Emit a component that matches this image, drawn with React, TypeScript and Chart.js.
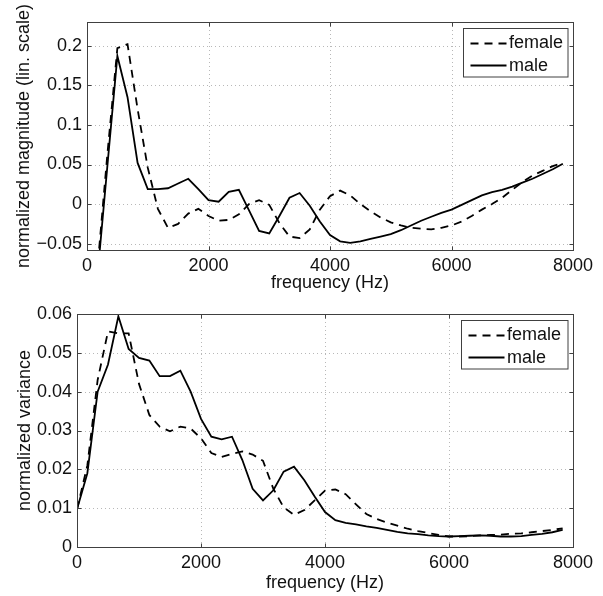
import React, { useEffect, useRef } from "react";
import { Chart, registerables } from "chart.js";

Chart.register(...registerables);

const FONT = '"Liberation Sans", Arial, Helvetica, sans-serif';

// frequency bins (Hz)
const freqHz = [
  0, 167, 333, 500, 667, 833, 1000, 1167, 1333, 1500, 1667, 1833,
  2000, 2167, 2333, 2500, 2667, 2833, 3000, 3167, 3333, 3500, 3667, 3833,
  4000, 4167, 4333, 4500, 4667, 4833, 5000, 5167, 5333, 5500, 5667, 5833,
  6000, 6167, 6333, 6500, 6667, 6833, 7000, 7167, 7333, 7500, 7667, 7833,
];

// top panel: normalized magnitude
const magFemale = [
  -0.25, -0.085, 0.061, 0.197, 0.202, 0.12, 0.046, -0.006, -0.03, -0.025, -0.012, -0.006,
  -0.015, -0.021, -0.02, -0.013, 0.0, 0.005, -0.001, -0.024, -0.041, -0.043, -0.032, -0.007,
  0.01, 0.017, 0.011, 0.0, -0.009, -0.017, -0.023, -0.027, -0.03, -0.031, -0.032, -0.03,
  -0.027, -0.022, -0.015, -0.007, 0.0, 0.008, 0.018, 0.028, 0.036, 0.042, 0.048, 0.052,
];
const magMale = [
  -0.25, -0.095, 0.046, 0.187, 0.135, 0.052, 0.019, 0.019, 0.02, 0.026, 0.032, 0.019,
  0.005, 0.003, 0.0155, 0.018, -0.008, -0.034, -0.037, -0.015, 0.008, 0.014, -0.002, -0.022,
  -0.039, -0.047, -0.049, -0.047, -0.044, -0.041, -0.038, -0.033, -0.027, -0.021, -0.016, -0.011,
  -0.007, -0.001, 0.005, 0.011, 0.015, 0.018, 0.022, 0.027, 0.032, 0.038, 0.044, 0.051,
];

// bottom panel: normalized variance
const varFemale = [
  0.0097, 0.021, 0.043, 0.0555, 0.055, 0.055, 0.042, 0.034, 0.031, 0.0298, 0.031, 0.0305,
  0.028, 0.0242, 0.0232, 0.024, 0.0246, 0.0238, 0.0222, 0.015, 0.0102, 0.0083, 0.0095, 0.012,
  0.0145, 0.0148, 0.0136, 0.011, 0.0085, 0.0072, 0.0063, 0.0055, 0.0047, 0.0041, 0.0036, 0.0031,
  0.0027, 0.0027, 0.0028, 0.003, 0.0031, 0.0032, 0.0034, 0.0035, 0.0038, 0.0041, 0.0044, 0.0048,
];
const varMale = [
  0.0097, 0.019, 0.04, 0.047, 0.0594, 0.051, 0.0487, 0.048, 0.044, 0.044, 0.0454, 0.04,
  0.033, 0.0284, 0.0277, 0.0284, 0.0224, 0.015, 0.012, 0.0146, 0.0194, 0.0207, 0.0172, 0.013,
  0.009, 0.0069, 0.0062, 0.0058, 0.0053, 0.0049, 0.0044, 0.0039, 0.0035, 0.0033, 0.003, 0.0028,
  0.0027, 0.0028, 0.0029, 0.003, 0.0029, 0.0027, 0.0027, 0.0028, 0.0031, 0.0034, 0.0038, 0.0044,
];

const seriesLabels = ["female", "male"];
const xTicks = [0, 2000, 4000, 6000, 8000];

const BOX = "#404040";
const TEXT = "#111111";

const matlabFrame = {
  id: "matlabFrame",
  beforeDatasetsDraw(chart: any) {
    const { ctx, chartArea: a } = chart;
    const x = chart.scales.x;
    const y = chart.scales.y;
    ctx.save();
    ctx.strokeStyle = "#b8b8b8";
    ctx.lineWidth = 1;
    ctx.setLineDash([1, 3]);
    ctx.beginPath();
    for (const t of x.ticks) {
      const p = Math.round(x.getPixelForValue(t.value)) + 0.5;
      if (p < a.left + 2 || p > a.right - 2) continue;
      ctx.moveTo(p, a.top);
      ctx.lineTo(p, a.bottom);
    }
    for (const t of y.ticks) {
      const p = Math.round(y.getPixelForValue(t.value)) + 0.5;
      if (p < a.top + 2 || p > a.bottom - 2) continue;
      ctx.moveTo(a.left, p);
      ctx.lineTo(a.right, p);
    }
    ctx.stroke();
    ctx.restore();
  },
  afterDatasetsDraw(chart: any, _args: any, opts: any) {
    const { ctx, chartArea: a } = chart;
    const x = chart.scales.x;
    const y = chart.scales.y;
    const L = Math.round(a.left) + 0.5;
    const R = Math.round(a.right) + 0.5;
    const T = Math.round(a.top) + 0.5;
    const B = Math.round(a.bottom) + 0.5;
    ctx.save();
    ctx.setLineDash([]);
    ctx.strokeStyle = BOX;
    ctx.lineWidth = 1;
    ctx.strokeRect(L, T, R - L, B - T);
    // inside ticks on all four sides
    const tl = 4;
    ctx.beginPath();
    for (const t of x.ticks) {
      const p = Math.round(x.getPixelForValue(t.value)) + 0.5;
      ctx.moveTo(p, B);
      ctx.lineTo(p, B - tl);
      ctx.moveTo(p, T);
      ctx.lineTo(p, T + tl);
    }
    for (const t of y.ticks) {
      const p = Math.round(y.getPixelForValue(t.value)) + 0.5;
      ctx.moveTo(L, p);
      ctx.lineTo(L + tl, p);
      ctx.moveTo(R, p);
      ctx.lineTo(R - tl, p);
    }
    ctx.stroke();

    // legend box
    const w = opts.legendWidth || 105;
    const h = 48.5;
    const bx = Math.round(a.right - 5.5 - w) + 0.5;
    const by = Math.round(a.top + 5.5) + 0.5;
    ctx.fillStyle = "#ffffff";
    ctx.fillRect(bx, by, w, h);
    ctx.strokeStyle = BOX;
    ctx.strokeRect(bx, by, w, h);
    ctx.font = `18px ${FONT}`;
    ctx.textBaseline = "middle";
    ctx.textAlign = "left";
    const rows = [14, 36.3];
    chart.data.datasets.forEach((ds: any, i: number) => {
      const ry = Math.round(by + rows[i]) + 0.5;
      ctx.save();
      ctx.strokeStyle = ds.borderColor;
      ctx.lineWidth = ds.borderWidth;
      ctx.setLineDash(ds.borderDash && ds.borderDash.length ? [8, 6] : []);
      ctx.beginPath();
      ctx.moveTo(bx + 7, ry);
      ctx.lineTo(bx + 43, ry);
      ctx.stroke();
      ctx.restore();
      ctx.fillStyle = TEXT;
      ctx.fillText(ds.label, bx + 45.5, by + rows[i] + 1);
    });
    ctx.restore();
  },
};

function fmt(v: number) {
  const r = Math.round(v * 10000) / 10000;
  if (r === 0) return "0";
  return r < 0 ? "\u2212" + String(-r) : String(r);
}

type PanelProps = {
  female: number[];
  male: number[];
  yMin: number;
  yMax: number;
  yStep: number;
  yTitle: string;
  padTop: number;
  yWidth: number;
  xHeight: number;
  xTitlePad: number;
  yTitlePad: number;
  legendWidth: number;
};

function Panel(p: PanelProps) {
  const ref = useRef<HTMLCanvasElement | null>(null);
  useEffect(() => {
    if (!ref.current) return;
    const mk = (vals: number[]) => freqHz.map((f, i) => ({ x: f, y: vals[i] }));
    const chart = new Chart(ref.current, {
      type: "line",
      data: {
        datasets: [
          {
            label: seriesLabels[0],
            data: mk(p.female),
            borderColor: "#000000",
            borderWidth: 1.8,
            borderDash: [8, 6],
            pointRadius: 0,
            fill: false,
            tension: 0,
          },
          {
            label: seriesLabels[1],
            data: mk(p.male),
            borderColor: "#000000",
            borderWidth: 1.8,
            pointRadius: 0,
            fill: false,
            tension: 0,
          },
        ],
      },
      options: {
        responsive: false,
        animation: false,
        events: [],
        layout: { padding: { top: p.padTop, right: 30, bottom: 0, left: 0 } },
        plugins: {
          legend: { display: false },
          tooltip: { enabled: false },
          matlabFrame: { legendWidth: p.legendWidth },
        } as any,
        scales: {
          x: {
            type: "linear",
            min: 0,
            max: 8000,
            afterFit: (s: any) => {
              s.height = p.xHeight;
            },
            afterBuildTicks: (s: any) => {
              s.ticks = xTicks.map((v) => ({ value: v }));
            },
            grid: { display: false, drawTicks: false },
            border: { display: false },
            ticks: {
              padding: 5,
              color: TEXT,
              font: { family: FONT, size: 18 },
              maxRotation: 0,
              autoSkip: false,
              callback: (v: any) => String(v),
            },
            title: {
              display: true,
              text: "frequency (Hz)",
              color: TEXT,
              font: { family: FONT, size: 18 },
              padding: { top: 0, bottom: p.xTitlePad },
            },
          },
          y: {
            type: "linear",
            min: p.yMin,
            max: p.yMax,
            afterFit: (s: any) => {
              s.width = p.yWidth;
            },
            grid: { display: false, drawTicks: false },
            border: { display: false },
            ticks: {
              stepSize: p.yStep,
              includeBounds: false,
              padding: 5,
              color: TEXT,
              font: { family: FONT, size: 18 },
              autoSkip: false,
              callback: (v: any) => fmt(Number(v)),
            },
            title: {
              display: true,
              text: p.yTitle,
              color: TEXT,
              font: { family: FONT, size: 18 },
              padding: { top: p.yTitlePad, bottom: 0 },
            },
          },
        },
      } as any,
      plugins: [matlabFrame as any],
    });
    return () => chart.destroy();
  }, []);
  return <canvas ref={ref} width={603} height={298} style={{ display: "block", width: 603, height: 298 }} />;
}

export default function App() {
  return (
    <div style={{ position: "absolute", left: 0, top: 0, width: 603, height: 596, background: "#ffffff" }}>
      <Panel
        female={magFemale}
        male={magMale}
        yMin={-0.058}
        yMax={0.23}
        yStep={0.05}
        yTitle="normalized magnitude (lin. scale)"
        padTop={22}
        yWidth={87}
        xHeight={48}
        xTitlePad={4}
        yTitlePad={13}
        legendWidth={104.5}
      />
      <Panel
        female={varFemale}
        male={varMale}
        yMin={0}
        yMax={0.06}
        yStep={0.01}
        yTitle="normalized variance"
        padTop={16}
        yWidth={77}
        xHeight={49}
        xTitlePad={2}
        yTitlePad={14}
        legendWidth={106.5}
      />
    </div>
  );
}
